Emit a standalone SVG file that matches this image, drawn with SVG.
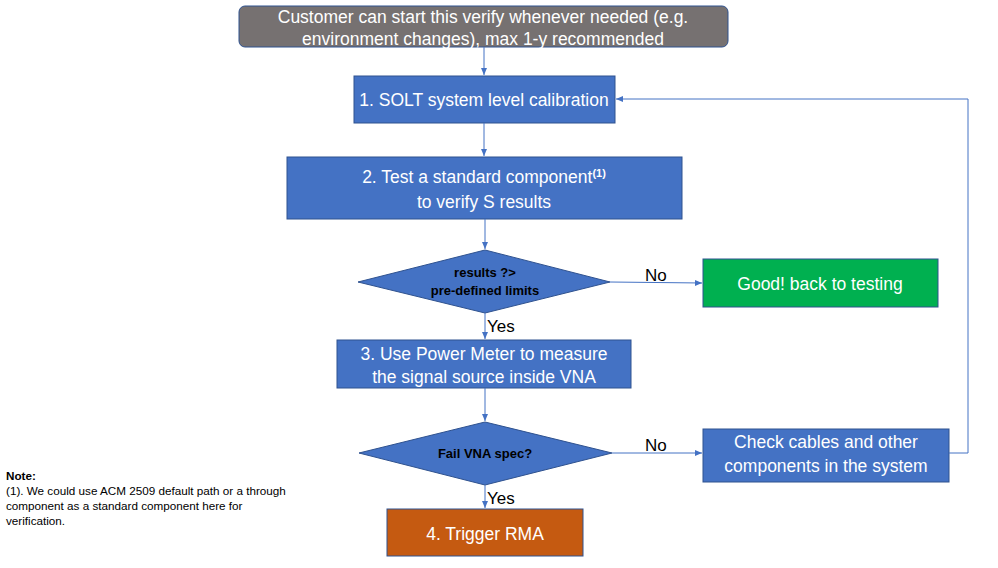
<svg xmlns="http://www.w3.org/2000/svg" width="998" height="568" viewBox="0 0 998 568">
<defs>
<marker id="ah" markerWidth="8" markerHeight="8" refX="7" refY="4" orient="auto" markerUnits="userSpaceOnUse">
<path d="M0,1 L7,4 L0,7 Z" fill="#4472C4"/>
</marker>
<style>
.box{fill:#4472C4;stroke:#2F528F;stroke-width:1}
.t{font-family:"Liberation Sans",Arial,sans-serif;font-size:17.5px;fill:#fff;text-anchor:middle}
.d{font-family:"Liberation Sans",Arial,sans-serif;font-size:13px;font-weight:bold;fill:#000;text-anchor:middle}
.lbl{font-family:"Liberation Sans",Arial,sans-serif;font-size:17px;fill:#000}
.note{font-family:"Liberation Sans",Arial,sans-serif;font-size:11.7px;fill:#000}
.c{fill:none;stroke:#4472C4;stroke-width:1;marker-end:url(#ah)}
</style>
</defs>
<rect width="998" height="568" fill="#fff"/>
<g id="start">
<rect x="239" y="6" width="489" height="41" rx="6" fill="#767171" stroke="#2F528F"/>
<text class="t" x="483" y="23">Customer can start this verify whenever needed (e.g.</text>
<text class="t" x="483" y="45">environment changes), max 1-y recommended</text>
</g>
<g id="step1">
<rect class="box" x="354" y="76" width="261" height="47"/>
<text class="t" x="484" y="106">1. SOLT system level calibration</text>
</g>
<g id="step2">
<rect class="box" x="287" y="157" width="395" height="62"/>
<text class="t" x="484" y="183">2. Test a standard component<tspan font-size="11" font-weight="bold" dy="-6">(1)</tspan></text>
<text class="t" x="484" y="208">to verify S results</text>
</g>
<g id="dec1">
<polygon class="box" points="485,250 610,282 485,313 358,282"/>
<text class="d" x="485" y="277">results ?&gt;</text>
<text class="d" x="485" y="295">pre-defined limits</text>
</g>
<g id="good">
<rect x="703" y="259" width="235" height="48" fill="#00B050" stroke="#2F528F"/>
<text class="t" x="820" y="290">Good! back to testing</text>
</g>
<g id="step3">
<rect class="box" x="337" y="340" width="294" height="48"/>
<text class="t" x="484" y="360">3. Use Power Meter to measure</text>
<text class="t" x="484" y="383">the signal source inside VNA</text>
</g>
<g id="dec2">
<polygon class="box" points="485,422 612,453 485,485 359,453"/>
<text class="d" x="485" y="458">Fail VNA spec?</text>
</g>
<g id="check">
<rect class="box" x="703" y="429" width="246" height="53"/>
<text class="t" x="826" y="448">Check cables and other</text>
<text class="t" x="826" y="472">components in the system</text>
</g>
<g id="rma">
<rect x="387" y="509" width="196" height="47" fill="#C55A11" stroke="#2F528F"/>
<text class="t" x="485" y="540">4. Trigger RMA</text>
</g>
<g id="connectors">
<path class="c" d="M484,47 V75"/>
<path class="c" d="M484,123 V156"/>
<path class="c" d="M485,219 V249"/>
<path class="c" d="M610,282 L702,283"/>
<path class="c" d="M485,313 V339"/>
<path class="c" d="M485,388 V421"/>
<path class="c" d="M612,453 L702,453"/>
<path class="c" d="M485,485 V508"/>
<path class="c" d="M949,453 H968 V99 H616"/>
</g>
<g id="labels">
<text class="lbl" x="645" y="281">No</text>
<text class="lbl" x="487" y="332">Yes</text>
<text class="lbl" x="645" y="451">No</text>
<text class="lbl" x="487" y="504">Yes</text>
</g>
<g id="note">
<text class="note" x="6" y="480" font-weight="bold">Note:</text>
<text class="note" x="6" y="495">(1). We could use ACM 2509 default path or a through</text>
<text class="note" x="6" y="510">component as a standard component here for</text>
<text class="note" x="6" y="525">verification.</text>
</g>
</svg>
